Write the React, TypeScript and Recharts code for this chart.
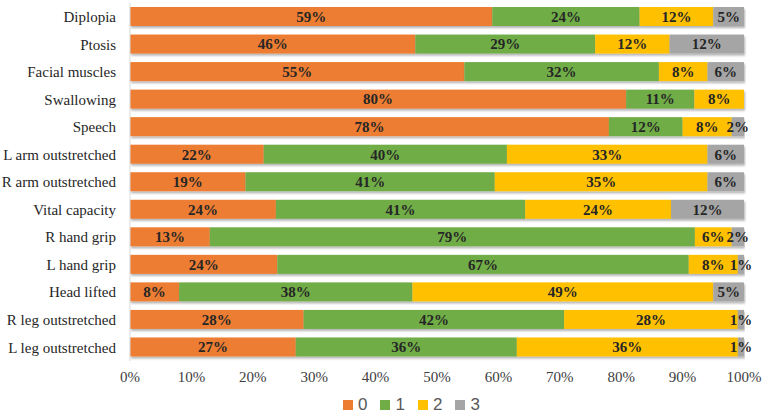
import React from 'react'
import { BarChart, Bar, XAxis, YAxis, Legend, LabelList } from 'recharts'

const categories = [
  'Diplopia', 'Ptosis', 'Facial muscles', 'Swallowing', 'Speech',
  'L arm outstretched', 'R arm outstretched', 'Vital capacity',
  'R hand grip', 'L hand grip', 'Head lifted', 'R leg outstretched', 'L leg outstretched',
]
const score0 = [59, 46, 55, 80, 78, 22, 19, 24, 13, 24, 8, 28, 27]
const score1 = [24, 29, 32, 11, 12, 40, 41, 41, 79, 67, 38, 42, 36]
const score2 = [12, 12, 8, 8, 8, 33, 35, 24, 6, 8, 49, 28, 36]
const score3 = [5, 12, 6, 0, 2, 6, 6, 12, 2, 1, 5, 1, 1]
const xTicks = [0, 0.1, 0.2, 0.3, 0.4, 0.5, 0.6, 0.7, 0.8, 0.9, 1]

const series = [
  { key: 's0', name: '0', color: '#ED7D31' },
  { key: 's1', name: '1', color: '#70AD47' },
  { key: 's2', name: '2', color: '#FFC000' },
  { key: 's3', name: '3', color: '#A5A5A5' },
]

const data = categories.map((c, i) => ({
  name: c, s0: score0[i], s1: score1[i], s2: score2[i], s3: score3[i],
}))

const serif = "'Liberation Serif', 'Times New Roman', 'DejaVu Serif', serif"

// bars have a soft drop shadow in the original
const ShadowRect = (p: any) => {
  if (!p.width || p.width <= 0) return null
  return <rect x={p.x} y={p.y} width={p.width} height={p.height} fill={p.fill} filter="url(#barShadow)" />
}

const pctLabel = (v: any) => (v ? `${v}%` : '')

export default function App() {
  return (
    <div style={{ position: 'absolute', left: 0, top: 0, width: 765, height: 415, background: '#fff', fontFamily: serif }}>
      <BarChart
        width={765}
        height={415}
        data={data}
        layout="vertical"
        stackOffset="expand"
        barSize={19}
        margin={{ top: 3, right: 21, left: 0, bottom: 12 }}
        style={{ fontFamily: serif }}
      >
        <defs>
          <filter id="barShadow" x="-5%" y="-20%" width="110%" height="160%">
            <feDropShadow dx="1" dy="2" stdDeviation="1" floodColor="#000" floodOpacity="0.3" />
          </filter>
        </defs>
        <XAxis
          type="number"
          domain={[0, 1]}
          ticks={xTicks}
          tickFormatter={v => `${Math.round(v * 100)}%`}
          axisLine={false}
          tickLine={false}
          tickSize={0}
          tickMargin={10}
          height={24}
          tick={{ fontSize: 15, fill: '#404040', style: { fontFamily: serif } }}
        />
        <YAxis
          type="category"
          dataKey="name"
          width={130}
          axisLine={{ stroke: '#D9D9D9' }}
          tickLine={false}
          tickSize={0}
          tickMargin={14}
          interval={0}
          tick={{ fontSize: 15, fill: '#262626', style: { fontFamily: serif } }}
        />
        {series.map(s => (
          <Bar key={s.key} dataKey={s.key} name={s.name} stackId="a" fill={s.color}
            isAnimationActive={false} shape={ShadowRect}>
            <LabelList dataKey={s.key} position="center" formatter={pctLabel}
              style={{ fontSize: 15, fontWeight: 'bold', fill: '#262626', fontFamily: serif }} />
          </Bar>
        ))}
        <Legend
          verticalAlign="bottom"
          wrapperStyle={{ left: 343, top: 396, width: 160, height: 18 }}
          content={() => (
            <div style={{ display: 'flex', alignItems: 'center', height: 18, lineHeight: '18px', fontFamily: "'Liberation Sans', Arial, sans-serif", fontSize: 17, color: '#595959' }}>
              {series.map(s => (
                <div key={s.key} style={{ display: 'flex', alignItems: 'center', marginRight: 13 }}>
                  <span style={{ display: 'inline-block', width: 10, height: 10, background: s.color, marginRight: 5 }} />
                  <span>{s.name}</span>
                </div>
              ))}
            </div>
          )}
        />
      </BarChart>
    </div>
  )
}
